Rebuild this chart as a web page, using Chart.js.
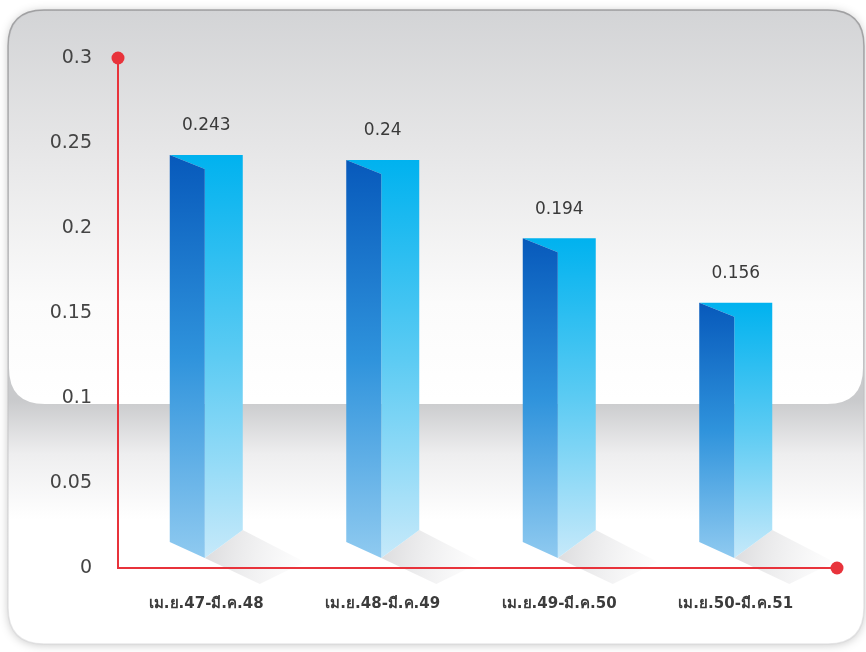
<!DOCTYPE html>
<html>
<head>
<meta charset="utf-8">
<script src="https://cdn.jsdelivr.net/npm/chart.js@4/dist/chart.umd.min.js"></script>
<style>
  html, body { margin: 0; padding: 0; background: #ffffff; }
  #wrap { width: 866px; height: 652px; }
</style>
</head>
<body>
<div id="wrap"><canvas id="c" width="866" height="652"></canvas></div>
<script>
// Periods (fiscal year April - March)
const categories = ['เม.ย.47-มี.ค.48', 'เม.ย.48-มี.ค.49', 'เม.ย.49-มี.ค.50', 'เม.ย.50-มี.ค.51'];
// Values per period
const values = [0.243, 0.24, 0.194, 0.156];
// Value-axis ticks
const yTicks = [0, 0.05, 0.1, 0.15, 0.2, 0.25, 0.3];

const AXIS_RED = '#e8333b';

function roundRect(ctx, x, y, w, h, r) {
  ctx.beginPath();
  ctx.moveTo(x + r, y);
  ctx.lineTo(x + w - r, y);
  ctx.quadraticCurveTo(x + w, y, x + w, y + r);
  ctx.lineTo(x + w, y + h - r);
  ctx.quadraticCurveTo(x + w, y + h, x + w - r, y + h);
  ctx.lineTo(x + r, y + h);
  ctx.quadraticCurveTo(x, y + h, x, y + h - r);
  ctx.lineTo(x, y + r);
  ctx.quadraticCurveTo(x, y, x + r, y);
  ctx.closePath();
}

// Glossy card behind the plot
const backdrop = {
  id: 'backdrop',
  beforeDraw(chart) {
    const ctx = chart.ctx;
    ctx.save();
    ctx.fillStyle = '#ffffff';
    ctx.fillRect(0, 0, chart.width, chart.height);

    // card with soft shadow
    ctx.shadowColor = 'rgba(0,0,0,0.22)';
    ctx.shadowBlur = 10;
    ctx.shadowOffsetY = 1;
    roundRect(ctx, 8, 10, 856, 634, 36);
    const lower = ctx.createLinearGradient(0, 400, 0, 520);
    lower.addColorStop(0, '#c9cacc');
    lower.addColorStop(0.45, '#eeeeef');
    lower.addColorStop(1, '#ffffff');
    ctx.fillStyle = lower;
    ctx.fill();
    ctx.shadowColor = 'transparent';

    // upper glossy panel
    roundRect(ctx, 9, 11, 854, 393, 36);
    const upper = ctx.createLinearGradient(0, 11, 0, 400);
    upper.addColorStop(0, '#d3d4d6');
    upper.addColorStop(0.35, '#e6e6e7');
    upper.addColorStop(0.75, '#fbfbfb');
    upper.addColorStop(1, '#ffffff');
    ctx.fillStyle = upper;
    ctx.fill();

    // rim, darker along the top
    roundRect(ctx, 8, 10, 856, 634, 36);
    const rim = ctx.createLinearGradient(0, 10, 0, 644);
    rim.addColorStop(0, 'rgba(150,150,152,0.85)');
    rim.addColorStop(0.6, 'rgba(190,190,192,0.6)');
    rim.addColorStop(1, 'rgba(210,210,212,0.5)');
    ctx.lineWidth = 1.5;
    ctx.strokeStyle = rim;
    ctx.stroke();
    ctx.restore();
  }
};

// Prism-style faces, floor shadows, axes and value labels built on the bar elements
const prism = {
  id: 'prism',
  afterDatasetsDraw(chart) {
    const ctx = chart.ctx;
    const area = chart.chartArea;
    const meta = chart.getDatasetMeta(0);
    ctx.save();

    meta.data.forEach((bar, i) => {
      const p = bar.getProps(['x', 'y', 'base', 'width'], true);
      const left = p.x - p.width / 2;
      const right = p.x + p.width / 2;
      const mid = left + p.width * 0.48;
      const top = p.y;
      const vBottom = p.base - 10;

      // floor shadow
      const sh = ctx.createLinearGradient(mid, vBottom, right + 70, vBottom + 20);
      sh.addColorStop(0, 'rgba(212,212,214,0.8)');
      sh.addColorStop(1, 'rgba(235,235,237,0)');
      ctx.fillStyle = sh;
      ctx.beginPath();
      ctx.moveTo(mid, vBottom);
      ctx.lineTo(right, vBottom - 28);
      ctx.lineTo(right + 62, vBottom + 4);
      ctx.lineTo(mid + 55, vBottom + 26);
      ctx.closePath();
      ctx.fill();

      const gl = ctx.createLinearGradient(0, top, 0, vBottom);
      gl.addColorStop(0, '#0759bb');
      gl.addColorStop(0.5, '#2f93dc');
      gl.addColorStop(1, '#8fcaf0');
      const gr = ctx.createLinearGradient(0, top, 0, vBottom);
      gr.addColorStop(0, '#00b2ef');
      gr.addColorStop(0.5, '#5ccbf3');
      gr.addColorStop(1, '#c6e9fa');

      // right (lit) face
      ctx.fillStyle = gr;
      ctx.beginPath();
      ctx.moveTo(left, top);
      ctx.lineTo(right, top);
      ctx.lineTo(right, vBottom - 28);
      ctx.lineTo(mid, vBottom);
      ctx.lineTo(mid, top + 14);
      ctx.closePath();
      ctx.fill();

      // left (shaded) face
      ctx.fillStyle = gl;
      ctx.beginPath();
      ctx.moveTo(left, top);
      ctx.lineTo(mid, top + 14);
      ctx.lineTo(mid, vBottom);
      ctx.lineTo(left, vBottom - 16);
      ctx.closePath();
      ctx.fill();

      // value label
      ctx.fillStyle = '#3a3a3a';
      ctx.font = '17px "DejaVu Sans", sans-serif';
      ctx.textAlign = 'center';
      ctx.textBaseline = 'middle';
      ctx.fillText(String(values[i]), p.x, top - 29);
    });

    // red axes with end dots
    const xEnd = area.right + 13;
    ctx.strokeStyle = AXIS_RED;
    ctx.lineWidth = 2;
    ctx.beginPath();
    ctx.moveTo(area.left, area.top);
    ctx.lineTo(area.left, area.bottom);
    ctx.lineTo(xEnd, area.bottom);
    ctx.stroke();
    ctx.fillStyle = AXIS_RED;
    [[area.left, area.top], [xEnd, area.bottom]].forEach(([x, y]) => {
      ctx.beginPath();
      ctx.arc(x, y, 6.5, 0, Math.PI * 2);
      ctx.fill();
    });
    ctx.restore();
  }
};

new Chart(document.getElementById('c'), {
  type: 'bar',
  data: {
    labels: categories,
    datasets: [{
      data: values,
      backgroundColor: 'rgba(0,0,0,0)',
      borderWidth: 0,
      barThickness: 73
    }]
  },
  options: {
    responsive: false,
    animation: false,
    events: [],
    layout: { padding: { left: 0, top: 58, right: 42, bottom: 0 } },
    plugins: { legend: { display: false }, tooltip: { enabled: false } },
    scales: {
      x: {
        grid: { display: false, drawTicks: false },
        border: { display: false },
        ticks: {
          color: '#3c3c3c',
          padding: 27,
          maxRotation: 0,
          font: { family: '"DejaVu Sans", sans-serif', size: 15, weight: 'bold' }
        },
        afterFit(scale) { scale.height = 84; }
      },
      y: {
        min: 0,
        max: 0.3,
        grid: { display: false, drawTicks: false },
        border: { display: false },
        afterBuildTicks(scale) { scale.ticks = yTicks.map(v => ({ value: v })); },
        ticks: {
          color: '#444444',
          padding: 26,
          font: { family: '"DejaVu Sans", sans-serif', size: 19 },
          callback: v => String(v)
        },
        afterFit(scale) { scale.width = 118; }
      }
    }
  },
  plugins: [backdrop, prism]
});
</script>
</body>
</html>
